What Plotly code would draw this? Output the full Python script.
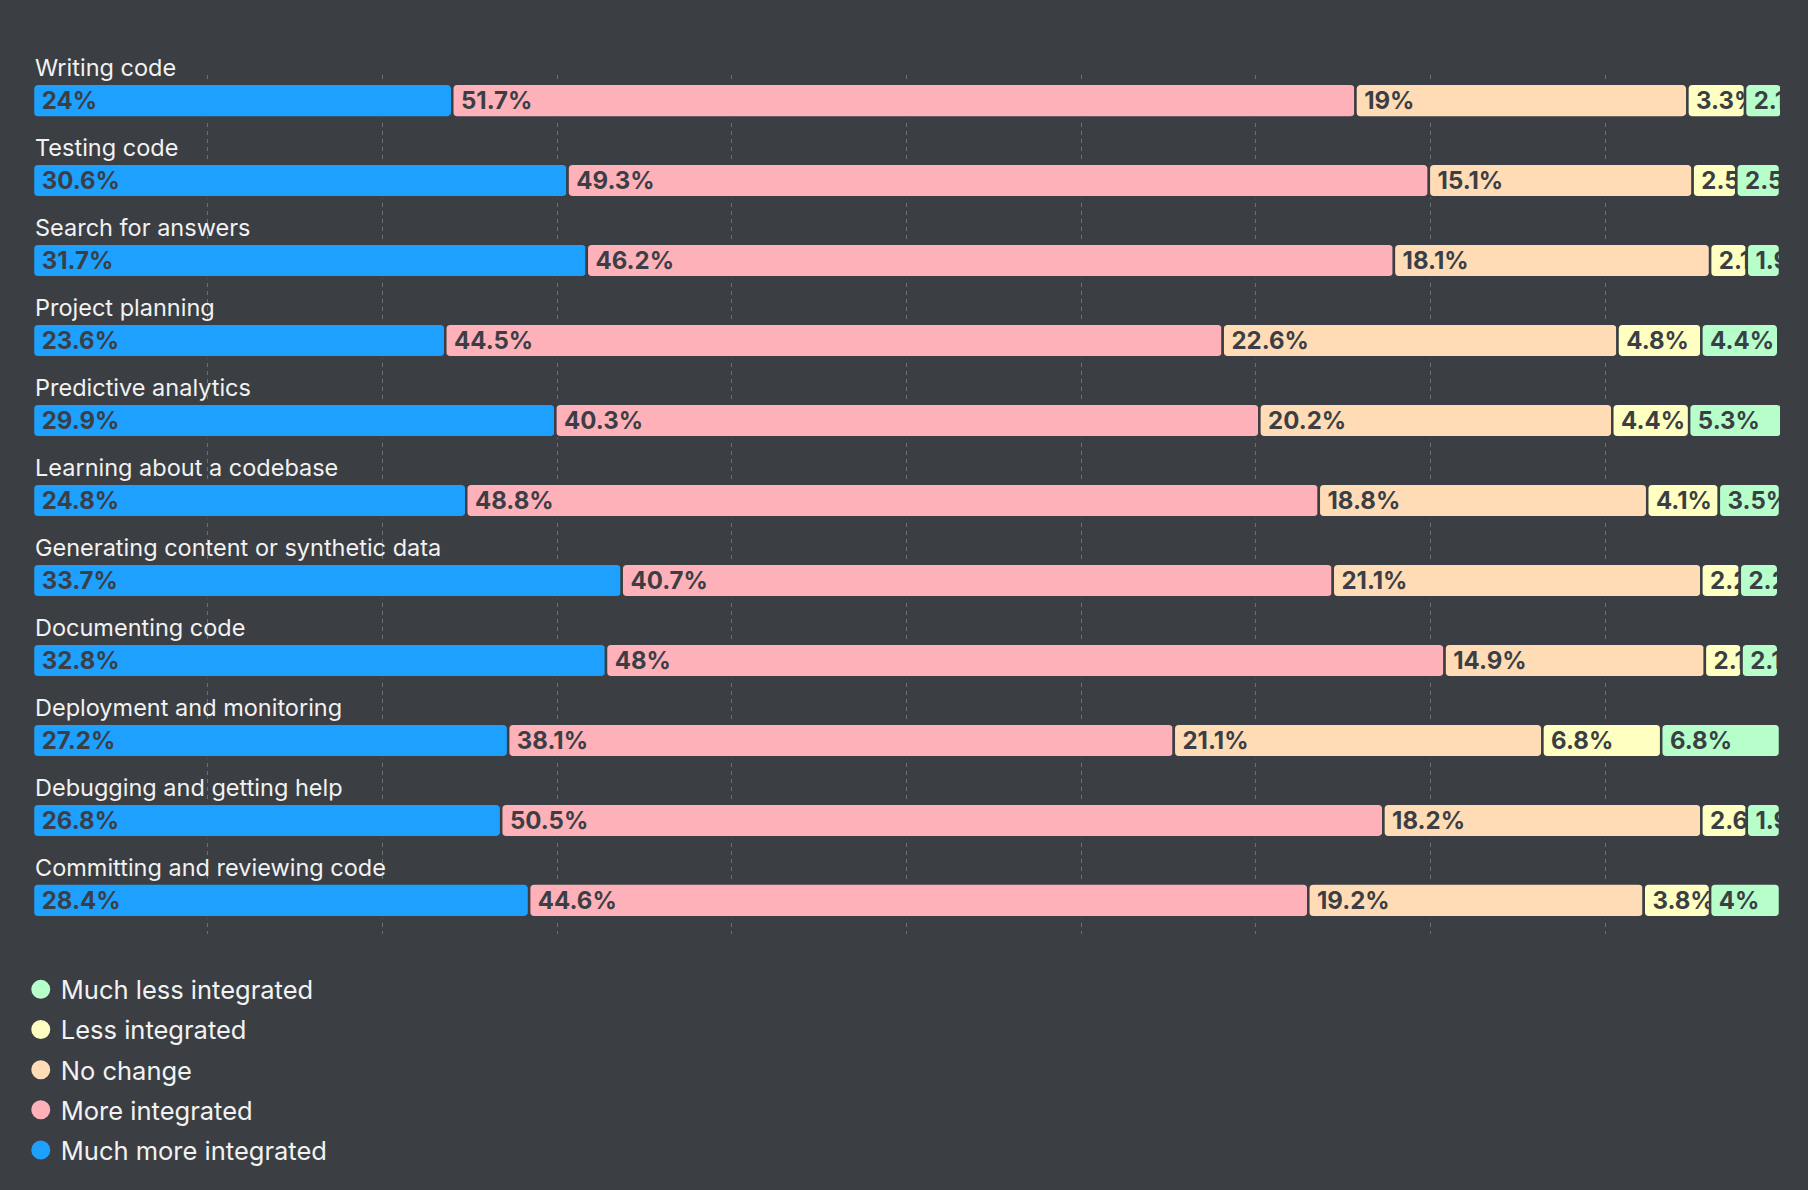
import plotly.graph_objects as go

categories = [
    "Writing code",
    "Testing code",
    "Search for answers",
    "Project planning",
    "Predictive analytics",
    "Learning about a codebase",
    "Generating content or synthetic data",
    "Documenting code",
    "Deployment and monitoring",
    "Debugging and getting help",
    "Committing and reviewing code",
]

series_names = [
    "Much more integrated",
    "More integrated",
    "No change",
    "Less integrated",
    "Much less integrated",
]

much_more = [24, 30.6, 31.7, 23.6, 29.9, 24.8, 33.7, 32.8, 27.2, 26.8, 28.4]
more = [51.7, 49.3, 46.2, 44.5, 40.3, 48.8, 40.7, 48, 38.1, 50.5, 44.6]
no_change = [19, 15.1, 18.1, 22.6, 20.2, 18.8, 21.1, 14.9, 21.1, 18.2, 19.2]
less = [3.3, 2.5, 2.1, 4.8, 4.4, 4.1, 2.2, 2.1, 6.8, 2.6, 3.8]
much_less = [2.1, 2.5, 1.9, 4.4, 5.3, 3.5, 2.2, 2.1, 6.8, 1.9, 4]

series_values = [much_more, more, no_change, less, much_less]
colors = ["#1ea0ff", "#ffb1b9", "#ffdcb6", "#ffffc2", "#b6ffcb"]

BG = "#3b3f44"
TEXT_DARK = "#3b3f45"
FONT = "Inter, Roboto, sans-serif"
BAR_W = 0.42

fig = go.Figure()

base = [0.0] * len(categories)
for name, vals, col in zip(series_names, series_values, colors):
    # filled segment (rounded far end)
    fig.add_trace(go.Bar(
        y=categories, x=vals, base=list(base),
        orientation="h", name=name,
        marker=dict(color=col, line=dict(color=BG, width=2.5), cornerradius=5),
        width=BAR_W, showlegend=False, hoverinfo="skip",
    ))
    # label layer for the same segment (unscaled, clipped by following segments)
    fig.add_trace(go.Bar(
        y=categories, x=vals, base=list(base),
        orientation="h", name=name,
        marker=dict(color="rgba(0,0,0,0)", line=dict(width=0)),
        width=BAR_W,
        text=["\u00a0" + f"{v:g}%" for v in vals],
        textposition="inside", insidetextanchor="start", textangle=0,
        constraintext="none", cliponaxis=True,
        textfont=dict(family=FONT, size=24, color=TEXT_DARK, weight="bold"),
        showlegend=False, hoverinfo="skip",
    ))
    base = [b + v for b, v in zip(base, vals)]

# legend entries with circle markers (top: "Much less integrated")
for name, col in reversed(list(zip(series_names, colors))):
    fig.add_trace(go.Scatter(
        x=[None], y=[None], mode="markers", name=name, legendgroup=name,
        marker=dict(symbol="circle", size=20, color=col, line=dict(color=col, width=3)),
        showlegend=True,
    ))

annotations = []
for c in categories:
    annotations.append(dict(
        x=0, y=c, xref="x", yref="y",
        text=c, showarrow=False,
        xanchor="left", yanchor="middle", yshift=33,
        font=dict(family=FONT, size=23.5, color="#f2f2f2"),
    ))

fig.update_layout(
    width=1808, height=1190,
    paper_bgcolor=BG, plot_bgcolor=BG,
    barmode="overlay",
    margin=dict(l=33, r=28, t=75, b=256),
    annotations=annotations,
    showlegend=True,
    legend=dict(
        traceorder="grouped",
        tracegroupgap=4,
        x=-0.007, xanchor="left",
        y=-0.0376, yanchor="top",
        font=dict(family=FONT, size=25.5, color="#f2f2f2"),
        bgcolor="rgba(0,0,0,0)",
        itemsizing="trace",
    ),
    xaxis=dict(
        range=[0, 100], dtick=10, showticklabels=False,
        showgrid=True, gridcolor="#6c7075", gridwidth=1, griddash="4px,4px",
        zeroline=False, showline=False, fixedrange=True,
    ),
    yaxis=dict(
        range=[10.42, -0.32], showticklabels=False, showgrid=False,
        zeroline=False, showline=False, fixedrange=True,
    ),
)

fig.write_html(
    "out.html",
    config={"displayModeBar": False},
    post_script="document.body.style.margin='0px';",
)
